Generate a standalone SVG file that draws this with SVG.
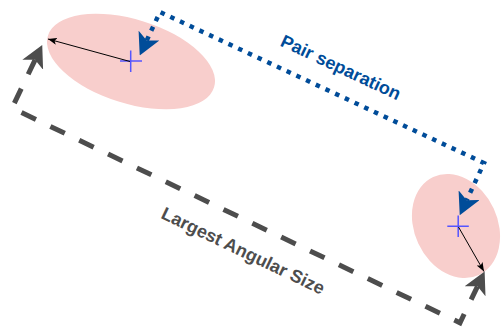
<svg xmlns="http://www.w3.org/2000/svg" width="503" height="329" viewBox="0 0 503 329">
<style>
.ell{fill:#f8cecc;stroke:none}
.cross{stroke:#5555ff;stroke-width:1.5;fill:none}
.thin{stroke:#000;stroke-width:1;fill:none}
.gray{stroke:#4d4d4d;stroke-width:5;fill:none;stroke-dasharray:16 16}
.blue{stroke:#004c99;stroke-width:4.5;fill:none;stroke-dasharray:4.5 6.2}
.lbl{font-family:"Liberation Sans",Arial,sans-serif;font-weight:bold;font-size:18px;text-anchor:middle}
</style>
<defs>
<marker id="mGray" markerUnits="userSpaceOnUse" markerWidth="22" markerHeight="23" viewBox="0 0 22 23" refX="5.5" refY="11.5" orient="auto-start-reverse">
<path d="M0,0 L22,11.5 L0,23 L5.5,11.5 Z" fill="#4d4d4d"/>
</marker>
<marker id="mBlue" markerUnits="userSpaceOnUse" markerWidth="22" markerHeight="23" viewBox="0 0 22 23" refX="5.5" refY="11.5" orient="auto-start-reverse">
<path d="M0,0 L22,11.5 L0,23 L5.5,11.5 Z" fill="#004c99"/>
</marker>
<marker id="mBlack" markerUnits="userSpaceOnUse" markerWidth="9" markerHeight="7" viewBox="0 0 9 7" refX="9" refY="3.5" orient="auto">
<path d="M0,0 L9,3.5 L0,7 L2.2,3.5 Z" fill="#000"/>
</marker>
</defs>
<g id="source1">
<ellipse class="ell" cx="131" cy="61.5" rx="87" ry="42" transform="rotate(17.3 131 61.5)"/>
<path class="cross" d="M120,61 H142 M130.7,50.5 V72"/>
</g>
<g id="source2">
<ellipse class="ell" cx="456" cy="226" rx="54" ry="41.6" transform="rotate(65 456 226)"/>
<path class="cross" d="M447.3,226.3 H468.8 M458.2,215.5 V237"/>
</g>
<g id="connectors">
<path class="thin" d="M130,61.5 L48,39" marker-end="url(#mBlack)"/>
<path class="thin" d="M458.5,227 L484,271.5" marker-end="url(#mBlack)"/>
<path class="gray" d="M35.1,59.8 L12,108 L460,322.8 L477.5,286.3" marker-start="url(#mGray)" marker-end="url(#mGray)"/>
<path class="blue" d="M146.7,40.5 L160,12 L484,163 L466.7,200.2" marker-start="url(#mBlue)" marker-end="url(#mBlue)"/>
</g>
<g id="labels">
<text class="lbl" fill="#004c99" x="341" y="73.5" transform="rotate(25 341 67)">Pair separation</text>
<text class="lbl" fill="#4d4d4d" x="243.3" y="257" transform="rotate(25.6 243.3 250.5)">Largest Angular Size</text>
</g>
</svg>
